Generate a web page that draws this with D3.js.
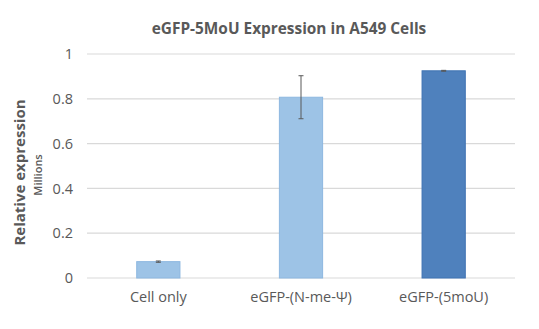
<!DOCTYPE html>
<html><head><meta charset="utf-8">
<script src="https://cdn.jsdelivr.net/npm/d3@7"></script>
<style>body{margin:0;background:#fff;} text{font-family:"Open Sans",sans-serif;}</style>
</head><body>
<svg id="c" width="539" height="329"></svg>
<script>
const categories = ["Cell only", "eGFP-(N-me-\u03A8)", "eGFP-(5moU)"];
const values = [0.073, 0.807, 0.925];
const errors = [0.003, 0.096, 0.002];
const colors = ["#9DC3E6", "#9DC3E6", "#4F81BD"];
const strokes = ["#8DB7E0", "#8DB7E0", "#3F73B3"];
const yTicks = [0, 0.2, 0.4, 0.6, 0.8, 1];
const yTickLabels = ["0", "0.2", "0.4", "0.6", "0.8", "1"];
const title = "eGFP-5MoU Expression in A549 Cells";

(function(){
const svg = d3.select("#c");
const pl = 87, pr = 515, pt = 54, pb = 278;
const x = d3.scaleBand().domain(categories).range([pl, pr]).paddingInner(0.69).paddingOuter(0.345);
const y = d3.scaleLinear().domain([0, 1]).range([pb, pt]);

svg.append("g").selectAll("line").data(yTicks).join("line")
  .attr("x1", pl).attr("x2", pr)
  .attr("y1", d => y(d)).attr("y2", d => y(d))
  .attr("stroke", "#d9d9d9").attr("stroke-width", 1.2);

const yAxis = svg.append("g").attr("transform", `translate(${pl},0)`)
  .call(d3.axisLeft(y).tickValues(yTicks).tickFormat((d,i) => yTickLabels[i]).tickSize(0).tickPadding(14));
yAxis.select(".domain").remove();
yAxis.selectAll("text").attr("fill", "#595959").style("font-size", "14.5px").style("font-family", "'Open Sans',sans-serif");

const xAxis = svg.append("g").attr("transform", `translate(0,${pb})`)
  .call(d3.axisBottom(x).tickSize(0).tickPadding(14));
xAxis.select(".domain").remove();
xAxis.selectAll("text").attr("fill", "#595959").style("font-size", "14.5px").style("font-family", "'Open Sans',sans-serif");

svg.append("g").selectAll("rect").data(categories).join("rect")
  .attr("x", d => x(d) + 0.5).attr("width", x.bandwidth() - 1)
  .attr("y", (d,i) => y(values[i])).attr("height", (d,i) => y(0) - y(values[i]))
  .attr("fill", (d,i) => colors[i]).attr("stroke", (d,i) => strokes[i]).attr("stroke-width", 1);

const eb = svg.append("g").attr("stroke", "#595959").attr("stroke-width", 1);
categories.forEach((c,i) => {
  const cx = x(c) + x.bandwidth()/2;
  const y1 = y(values[i] + errors[i]), y2 = y(values[i] - errors[i]);
  eb.append("line").attr("x1", cx).attr("x2", cx).attr("y1", y1).attr("y2", y2);
  eb.append("line").attr("x1", cx-2.5).attr("x2", cx+2.5).attr("y1", y1).attr("y2", y1);
  eb.append("line").attr("x1", cx-2.5).attr("x2", cx+2.5).attr("y1", y2).attr("y2", y2);
});

svg.append("text").attr("x", 289).attr("y", 33.5).attr("text-anchor", "middle")
  .attr("fill", "#595959").style("font-size", "15.4px").style("font-weight", "bold").text(title);

svg.append("text").attr("transform", "translate(24.5,172.5) rotate(-90)").attr("text-anchor", "middle")
  .attr("fill", "#595959").style("font-size", "15px").style("font-weight", "bold").text("Relative expression");
svg.append("text").attr("transform", "translate(41.5,175) rotate(-90)").attr("text-anchor", "middle")
  .attr("fill", "#595959").style("font-size", "11px").style("font-weight", "600").text("Millions");
})();
</script>
</body></html>
